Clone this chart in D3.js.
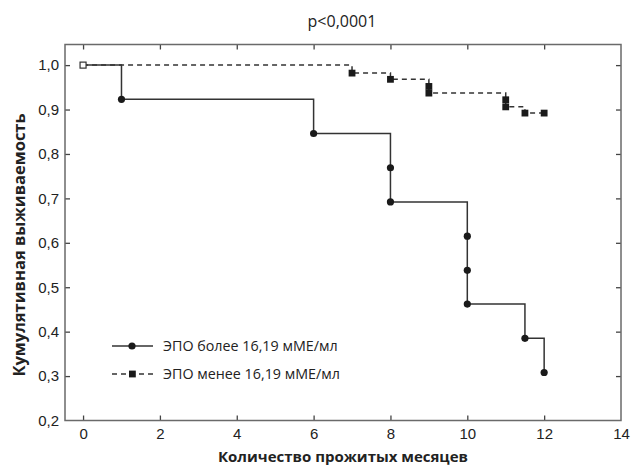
<!DOCTYPE html>
<html>
<head>
<meta charset="utf-8">
<script src="https://cdn.jsdelivr.net/npm/d3@7"></script>
<style>
  body { margin: 0; background: #fff; }
  svg { display: block; font-family: "Open Sans", sans-serif; }
  .tick text { font-size: 15px; fill: #222; }
</style>
</head>
<body>
<svg width="632" height="467"></svg>
<script>
// группа 1: ЭПО более 16,19 мМЕ/мл (сплошная линия, кружки)
const highMonths = [1, 6, 8, 8, 10, 10, 10, 11.5, 12];
const highSurv   = [0.923, 0.846, 0.769, 0.692, 0.615, 0.538, 0.462, 0.385, 0.308];
// группа 2: ЭПО менее 16,19 мМЕ/мл (пунктир, квадраты)
const lowMonths = [7, 8, 9, 9, 11, 11, 11.5, 12];
const lowSurv   = [0.982, 0.968, 0.952, 0.937, 0.922, 0.906, 0.892, 0.892];

const xTicks = [0, 2, 4, 6, 8, 10, 12, 14];
const yTicks = [0.2, 0.3, 0.4, 0.5, 0.6, 0.7, 0.8, 0.9, 1.0];
const legendLabels = ['ЭПО более 16,19 мМЕ/мл', 'ЭПО менее 16,19 мМЕ/мл'];
const titleText = 'p<0,0001';
const xTitle = 'Количество прожитых месяцев';
const yTitle = 'Кумулятивная выживаемость';

const svg = d3.select('svg');
const mLeft = 65, mRight = 621, mTop = 44.5, mBottom = 420.5;

const x = d3.scaleLinear().domain([-0.47, 14]).range([mLeft, mRight]);
const y = d3.scaleLinear().domain([0.2, 1.0464]).range([mBottom, mTop]);
const fmt = d => d3.format('.1f')(d).replace('.', ',');

// оси (засечки внутрь)
const gx = svg.append('g').attr('transform', `translate(0,${mBottom})`)
    .call(d3.axisBottom(x).tickValues(xTicks).tickSize(-5).tickPadding(8));
const gy = svg.append('g').attr('transform', `translate(${mLeft},0)`)
    .call(d3.axisLeft(y).tickValues(yTicks).tickFormat(fmt).tickSize(-5).tickPadding(6));
const gt = svg.append('g').attr('transform', `translate(0,${mTop})`)
    .call(d3.axisTop(x).tickValues(xTicks.slice(0, -1)).tickSize(-5).tickFormat(''));
const gr = svg.append('g').attr('transform', `translate(${mRight},0)`)
    .call(d3.axisRight(y).tickValues(yTicks.slice(1)).tickSize(-5).tickFormat(''));
[gx, gy, gt, gr].forEach(g => {
    g.select('.domain').remove();
    g.selectAll('.tick line').attr('stroke', '#444').attr('stroke-width', 1.3);
});
gx.selectAll('.tick').filter(d => d === 14).select('line').remove();
gy.selectAll('.tick').filter(d => d === 0.2).select('line').remove();

// рамка
svg.append('rect')
    .attr('x', mLeft).attr('y', mTop)
    .attr('width', mRight - mLeft).attr('height', mBottom - mTop)
    .attr('fill', 'none').attr('stroke', '#6a6a6a').attr('stroke-width', 1.5);

// ступенчатая кривая Каплана-Мейера
function stepPoints(months, surv) {
    const pts = [[0, 1]];
    let s = 1;
    months.forEach((m, i) => {
        pts.push([m, s]);
        s = surv[i];
        pts.push([m, s]);
    });
    return pts;
}
const line = d3.line().x(d => x(d[0])).y(d => y(d[1]));

svg.append('path')
    .attr('d', line(stepPoints(lowMonths, lowSurv)))
    .attr('fill', 'none').attr('stroke', '#333').attr('stroke-width', 1.5)
    .attr('stroke-dasharray', '5,4');

svg.append('path')
    .attr('d', line(stepPoints(highMonths, highSurv)))
    .attr('fill', 'none').attr('stroke', '#333').attr('stroke-width', 1.5);

svg.append('g').selectAll('circle')
    .data(highMonths.map((m, i) => [m, highSurv[i]]))
    .enter().append('circle')
    .attr('cx', d => x(d[0])).attr('cy', d => y(d[1]))
    .attr('r', 3.6).attr('fill', '#1a1a1a');

svg.append('g').selectAll('rect')
    .data(lowMonths.map((m, i) => [m, lowSurv[i]]))
    .enter().append('rect')
    .attr('x', d => x(d[0]) - 3.4).attr('y', d => y(d[1]) - 3.4)
    .attr('width', 6.8).attr('height', 6.8).attr('fill', '#1a1a1a');

// открытый маркер в начале
svg.append('rect')
    .attr('x', x(0) - 3).attr('y', y(1) - 3)
    .attr('width', 6).attr('height', 6)
    .attr('fill', '#fff').attr('stroke', '#333').attr('stroke-width', 1.2);

// подписи
svg.append('text').attr('x', 342).attr('y', 27).attr('text-anchor', 'middle')
    .attr('font-size', 16).attr('fill', '#222').text(titleText);
svg.append('text').attr('x', (mLeft + mRight) / 2).attr('y', 462).attr('text-anchor', 'middle')
    .attr('font-size', 15).attr('font-weight', 'bold').attr('fill', '#222').text(xTitle);
svg.append('text').attr('transform', 'translate(25,245) rotate(-90)')
    .attr('text-anchor', 'middle')
    .attr('font-size', 16.5).attr('font-weight', 'bold').attr('fill', '#222').text(yTitle);

// легенда
const legend = svg.append('g').attr('transform', 'translate(112,346)');
legendLabels.forEach((lab, i) => {
    const g = legend.append('g').attr('transform', `translate(0,${i * 28})`);
    g.append('line').attr('x1', 0).attr('x2', 41)
        .attr('stroke', '#333').attr('stroke-width', 1.5)
        .attr('stroke-dasharray', i ? '5,4' : null);
    if (i === 0) g.append('circle').attr('cx', 20).attr('r', 3.6).attr('fill', '#1a1a1a');
    else g.append('rect').attr('x', 17).attr('y', -3.4).attr('width', 6.8).attr('height', 6.8).attr('fill', '#1a1a1a');
    g.append('text').attr('x', 51).attr('dy', '0.35em')
        .attr('font-size', 14.3).attr('fill', '#222').text(lab);
});
</script>
</body>
</html>
